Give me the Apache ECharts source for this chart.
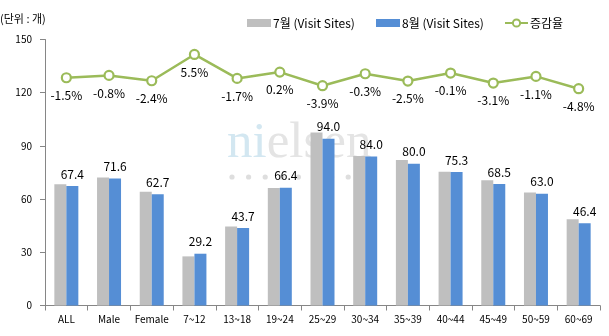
<!DOCTYPE html>
<html>
<head>
<meta charset="utf-8">
<script src="https://cdn.jsdelivr.net/npm/echarts@6/dist/echarts.min.js"></script>
<style>
  html, body { margin: 0; padding: 0; background: #fff; }
  #chart { width: 609px; height: 336px; }
</style>
</head>
<body>
<div id="chart"></div>
<script>
// Visit sites by segment, July vs August, with month-over-month change rate
const categories = ['ALL', 'Male', 'Female', '7~12', '13~18', '19~24', '25~29', '30~34', '35~39', '40~44', '45~49', '50~59', '60~69'];
const julySites = [68.4, 72.2, 64.2, 27.7, 44.5, 66.3, 97.6, 84.3, 82.1, 75.4, 70.7, 63.7, 48.7];
const augustSites = [67.4, 71.6, 62.7, 29.2, 43.7, 66.4, 94.0, 84.0, 80.0, 75.3, 68.5, 63.0, 46.4];
const changeRate = [-1.5, -0.8, -2.4, 5.5, -1.7, 0.2, -3.9, -0.3, -2.5, -0.1, -3.1, -1.1, -4.8];
const yTicks = [0, 30, 60, 90, 120, 150];

const FONT = '"Noto Sans CJK KR", "Noto Sans", sans-serif';
const AXIS_COLOR = '#868686';

const chart = echarts.init(document.getElementById('chart'), null, { renderer: 'canvas' });

// faint brand mark sitting behind the bars
const dots = [];
for (let i = 0; i < 8; i++) {
  dots.push({
    type: 'circle',
    shape: { cx: 232 + i * 16.6, cy: 177, r: 2.6 },
    style: { fill: '#dedede' },
    silent: true
  });
}

const legendText = { fontSize: 12, color: '#000', fontFamily: FONT, padding: [0, 0, 0, -3] };

chart.setOption({
  animation: false,
  textStyle: { fontFamily: FONT },
  graphic: [
    {
      type: 'text',
      left: 0,
      top: 13,
      style: { text: '(단위 : 개)', fontFamily: FONT, fontSize: 11, fill: '#000' }
    },
    {
      type: 'text',
      x: 227,
      y: 169,
      silent: true,
      style: {
        text: '{a|ni}{b|elsen}',
        textVerticalAlign: 'bottom',
        rich: {
          a: { fontFamily: '"Liberation Serif", serif', fontSize: 51, fill: '#d3e7f1' },
          b: { fontFamily: '"Liberation Serif", serif', fontSize: 51, fill: '#e4e4e4' }
        }
      }
    }
  ].concat(dots),
  legend: [
    {
      data: ['7월 (Visit Sites)'],
      icon: 'rect',
      left: 242, top: 12,
      itemWidth: 24, itemHeight: 8,
      textStyle: legendText
    },
    {
      data: ['8월 (Visit Sites)'],
      icon: 'rect',
      left: 371, top: 12,
      itemWidth: 24, itemHeight: 8,
      textStyle: legendText
    },
    {
      data: ['증감율'],
      left: 499, top: 12,
      itemWidth: 23, itemHeight: 9,
      textStyle: legendText
    }
  ],
  grid: { left: 45, right: 9, top: 39.5, bottom: 30.5 },
  xAxis: {
    type: 'category',
    data: categories,
    axisLine: { lineStyle: { color: AXIS_COLOR } },
    axisTick: { show: true, interval: 0, length: 5, lineStyle: { color: AXIS_COLOR } },
    axisLabel: { interval: 0, color: '#000', fontSize: 10, margin: 9, fontFamily: FONT }
  },
  yAxis: [
    {
      type: 'value',
      min: yTicks[0],
      max: yTicks[yTicks.length - 1],
      interval: yTicks[1] - yTicks[0],
      axisLine: { show: true, lineStyle: { color: AXIS_COLOR } },
      axisTick: { show: true, length: 5, lineStyle: { color: AXIS_COLOR } },
      splitLine: { show: false },
      axisLabel: { color: '#000', fontSize: 10, margin: 13, fontFamily: FONT }
    },
    {
      type: 'value',
      min: -70,
      max: 10,
      show: false,
      splitLine: { show: false }
    }
  ],
  series: [
    {
      name: '7월 (Visit Sites)',
      type: 'bar',
      data: julySites,
      barWidth: 12,
      barGap: '0%',
      itemStyle: { color: '#bfbfbf' }
    },
    {
      name: '8월 (Visit Sites)',
      type: 'bar',
      data: augustSites,
      barWidth: 12,
      barGap: '0%',
      itemStyle: { color: '#558ed5' },
      label: {
        show: true,
        position: 'top',
        distance: 6,
        fontSize: 12,
        color: '#000',
        fontFamily: FONT,
        formatter: p => p.value.toFixed(1)
      }
    },
    {
      name: '증감율',
      type: 'line',
      yAxisIndex: 1,
      data: changeRate,
      symbol: 'circle',
      symbolSize: 9,
      lineStyle: { color: '#9bbb59', width: 2.5 },
      itemStyle: { color: '#ffffff', borderColor: '#9bbb59', borderWidth: 2.2 },
      label: {
        show: true,
        position: 'bottom',
        distance: 6,
        fontSize: 12,
        color: '#000',
        fontFamily: FONT,
        formatter: p => p.value.toFixed(1) + '%'
      },
      z: 5
    }
  ]
});
</script>
</body>
</html>
